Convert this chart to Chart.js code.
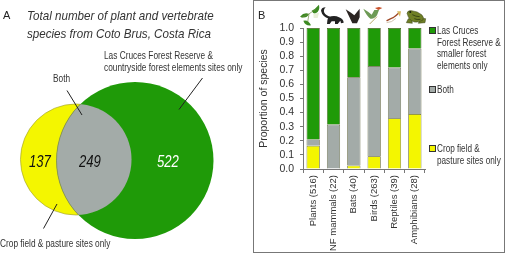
<!DOCTYPE html>
<html lang="en">
<head>
  <meta charset="UTF-8">
  <title>Plant and vertebrate species, Coto Brus</title>
  <script src="https://cdn.jsdelivr.net/npm/chart.js"></script>
  <style>
    html, body { margin: 0; padding: 0; background: #fff; }
    body { width: 507px; height: 253px; position: relative; overflow: hidden;
      font-family: 'Liberation Sans', Arial, sans-serif; color: #222; }
    canvas { position: absolute; }
    #venn { left: 0; top: 0; }
    #bars { left: 254px; top: 0; }
    .panel { position: absolute; left: 253px; top: 0; width: 250px; height: 251px; border: 1.5px solid #777; box-sizing: content-box; }
    .t { position: absolute; white-space: nowrap; line-height: 1; transform-origin: left top; }
    .title { font-style: italic; font-size: 13.5px; color: #333; transform: scaleX(0.86); }
    .lab { font-size: 11px; color: #333; transform: scaleX(0.755); }
    .num { font-style: italic; font-size: 16px; transform: scaleX(0.82); }
    .leg { font-size: 10.5px; color: #333; transform: scaleX(0.78); }
    .sw { position: absolute; width: 5px; height: 5px; border: 1px solid #333; box-sizing: content-box; }
    svg { position: absolute; }
  </style>
</head>
<body>
  <div class="panel"></div>
  <canvas id="venn" width="250" height="253"></canvas>
  <canvas id="bars" width="180" height="251"></canvas>

  <div class="t" style="left:3px;top:10px;font-size:11px">A</div>
  <div class="t title" style="left:27px;top:9px">Total number of plant and vertebrate</div>
  <div class="t title" style="left:27px;top:27px">species from Coto Brus, Costa Rica</div>
  <div class="t lab" style="left:104px;top:50px">Las Cruces Forest Reserve &amp;</div>
  <div class="t lab" style="left:104px;top:62px">countryside forest elements sites only</div>
  <div class="t lab" style="left:53px;top:73px">Both</div>
  <div class="t lab" style="left:0;top:238px">Crop field &amp; pasture sites only</div>
  <div class="t num" id="n0" style="left:29px;top:154px;color:#111"></div>
  <div class="t num" id="n1" style="left:79px;top:154px;color:#111"></div>
  <div class="t num" id="n2" style="left:157px;top:154px;color:#fff"></div>
  <div class="t" style="left:258px;top:10px;font-size:11px">B</div>

  <svg width="250" height="253" style="left:0;top:0" stroke="#222" stroke-width="1">
    <line x1="202.5" y1="78" x2="179" y2="109.5"/>
    <line x1="67" y1="90.5" x2="82" y2="115"/>
    <line x1="57" y1="204" x2="43.5" y2="228.5"/>
  </svg>

  <!-- little animal sketches above the bars, viewBox is 3x the pixels -->
  <svg width="140" height="35" viewBox="0 0 420 105" style="left:295px;top:0">
    <g fill="#3c8a22">
      <path d="M15 50 Q28 35 42 42 Q34 58 15 50Z"/>
      <path d="M25 62 Q40 58 48 76 Q30 78 25 62Z"/>
      <path d="M50 32 Q60 28 72 14 Q76 32 62 40 Q54 42 50 32Z"/>
    </g>
    <path d="M20 52 Q40 45 62 28 M42 42 L38 66" stroke="#6b8a40" stroke-width="2" fill="none"/>
    <path d="M55 42 L72 38 L68 54 L56 54Z" fill="#e8efd8"/>
    <g fill="#222">
      <path d="M100 52 Q118 44 132 52 Q146 58 146 68 L138 70 L136 62 L128 72 L120 72 L120 64 L110 64 L104 72 L96 72 Q96 60 100 52Z"/>
      <path d="M102 56 Q82 50 78 32 Q80 22 92 22 Q84 30 88 38 Q92 46 106 50Z"/>
    </g>
    <path d="M172 70 L152 28 L168 38 L178 46 L194 26 L194 52 L186 70 Z" fill="#2b2522"/>
    <g>
      <path d="M205 26 Q222 36 230 44 L238 30 L252 30 L246 46 Q238 58 226 56 Q214 46 205 26Z" fill="#6d9a55"/>
      <path d="M240 24 L252 21 L262 24 L250 30 Z" fill="#c8502a"/>
      <path d="M224 72 L246 50" stroke="#b8a868" stroke-width="3"/>
    </g>
    <g fill="none" stroke-linecap="round">
      <path d="M276 62 Q286 56 296 52 Q304 46 312 38" stroke="#a04a28" stroke-width="4"/>
      <path d="M276 68 Q290 68 302 56" stroke="#c8b8a0" stroke-width="2.5"/>
    </g>
    <path d="M306 34 L318 34 L315 50 Z" fill="#d8b860"/>
    <g fill="#6f7f26" stroke="#38421a" stroke-width="1.5">
      <path d="M340 56 L334 68 L352 70 L350 58Z"/>
      <path d="M378 54 L392 56 L390 68 L370 70Z"/>
      <path d="M336 40 Q338 30 350 32 Q368 34 380 44 Q388 52 384 60 Q372 68 358 66 Q342 62 336 40Z"/>
    </g>
    <circle cx="346" cy="36" r="3" fill="#1c1c10"/>
    <path d="M352 44 Q362 50 374 50 M358 56 Q366 60 376 58" stroke="#2d3a10" fill="none" stroke-width="2.5"/>
  </svg>

  <div id="legend"></div>

  <script>
    // bars, panel B
    const categories = ['Plants (516)', 'NF mammals (22)', 'Bats (40)', 'Birds (263)', 'Reptiles (39)', 'Amphibians (28)'];
    const cropOnly = [0.165, 0, 0.025, 0.09, 0.36, 0.39];
    const both = [0.045, 0.315, 0.625, 0.64, 0.36, 0.465];
    const forestOnly = [0.79, 0.685, 0.35, 0.27, 0.28, 0.145];
    const yTicks = ['0.0', '0.1', '0.2', '0.3', '0.4', '0.5', '0.6', '0.7', '0.8', '0.9', '1.0'];

    // venn, panel A
    const vennCrop = 137;
    const vennBoth = 249;
    const vennForest = 522;

    const GREEN = '#1f9a08';
    const GRAY = '#a3aba8';
    const YELLOW = '#f4f600';
    const EDGE = '#4a4f20';

    document.getElementById('n0').textContent = vennCrop;
    document.getElementById('n1').textContent = vennBoth;
    document.getElementById('n2').textContent = vennForest;

    // circle areas follow the species totals
    const k = 2.827;
    const rForest = k * Math.sqrt(vennForest + vennBoth);
    const rCrop = k * Math.sqrt(vennCrop + vennBoth);
    // bubble charts inset the chart area by the largest radius, so the scale
    // range starts there to keep one data unit equal to one pixel
    const inset = rForest;

    const lensPlugin = {
      id: 'lens',
      afterDatasetsDraw(chart) {
        const a = chart.getDatasetMeta(0).data[0];
        const b = chart.getDatasetMeta(1).data[0];
        const ctx = chart.ctx;
        ctx.save();
        ctx.beginPath();
        ctx.arc(a.x, a.y, rForest, 0, Math.PI * 2);
        ctx.clip();
        ctx.beginPath();
        ctx.arc(b.x, b.y, rCrop, 0, Math.PI * 2);
        ctx.fillStyle = GRAY;
        ctx.fill();
        ctx.restore();
        ctx.save();
        ctx.beginPath();
        ctx.arc(b.x, b.y, rCrop, 0, Math.PI * 2);
        ctx.clip();
        ctx.beginPath();
        ctx.arc(a.x, a.y, rForest, 0, Math.PI * 2);
        ctx.strokeStyle = '#8a8f50';
        ctx.lineWidth = 0.8;
        ctx.stroke();
        ctx.restore();
      }
    };

    new Chart(document.getElementById('venn'), {
      type: 'bubble',
      data: {
        datasets: [
          { data: [{ x: 135, y: 160.5, r: rForest }], backgroundColor: GREEN, borderWidth: 0, clip: false },
          { data: [{ x: 76, y: 159.5, r: rCrop }], backgroundColor: YELLOW, borderColor: '#9a9a30', borderWidth: 0.6, clip: false }
        ]
      },
      options: {
        responsive: false,
        animation: false,
        layout: { padding: 0 },
        plugins: { legend: { display: false }, tooltip: { enabled: false } },
        scales: {
          x: { display: false, min: inset, max: 250 - inset },
          y: { display: false, min: inset, max: 253 - inset, reverse: true }
        }
      },
      plugins: [lensPlugin]
    });

    new Chart(document.getElementById('bars'), {
      type: 'bar',
      data: {
        labels: categories,
        datasets: [
          { label: 'Crop field & pasture sites only', data: cropOnly, backgroundColor: YELLOW },
          { label: 'Both', data: both, backgroundColor: GRAY },
          { label: 'Las Cruces Forest Reserve & smaller forest elements only', data: forestOnly, backgroundColor: GREEN }
        ]
      },
      options: {
        responsive: false,
        animation: false,
        layout: { padding: { top: 28, right: 9, bottom: 0, left: 0 } },
        datasets: { bar: { categoryPercentage: 1, barPercentage: 0.65, borderColor: EDGE, borderWidth: 0.7 } },
        plugins: { legend: { display: false }, tooltip: { enabled: false } },
        scales: {
          x: {
            stacked: true,
            afterFit(scale) { scale.height = 82; },
            grid: { drawOnChartArea: false, color: '#777', tickLength: 4 },
            border: { color: '#777' },
            ticks: { minRotation: 90, maxRotation: 90, autoSkip: false, color: '#333', padding: 2,
              font: { family: 'Liberation Sans', size: 9.5 } }
          },
          y: {
            stacked: true,
            min: 0,
            max: 1,
            afterFit(scale) { scale.width = 49; },
            afterBuildTicks(scale) { scale.ticks = yTicks.map(t => ({ value: Number(t) })); },
            grid: { drawOnChartArea: false, color: '#777', tickLength: 3 },
            border: { color: '#777' },
            title: { display: true, text: 'Proportion of species', color: '#333', padding: { top: 4, bottom: 0 },
              font: { family: 'Liberation Sans', size: 10.5 } },
            ticks: { color: '#333', padding: 6, autoSkip: false, callback: v => v.toFixed(1),
              font: { family: 'Liberation Sans', size: 10.5 } }
          }
        }
      }
    });

    // legend is written by hand, the labels wrap on fixed lines
    const legendRows = [
      { color: GREEN, y: 26, lines: ['Las Cruces', 'Forest Reserve &', 'smaller forest', 'elements only'] },
      { color: GRAY, y: 85, lines: ['Both'] },
      { color: YELLOW, y: 144, lines: ['Crop field &', 'pasture sites only'] }
    ];
    const legend = document.getElementById('legend');
    legendRows.forEach(row => {
      const sw = document.createElement('div');
      sw.className = 'sw';
      sw.style.cssText = `left:429px;top:${row.y + 1}px;background:${row.color}`;
      legend.appendChild(sw);
      row.lines.forEach((line, i) => {
        const el = document.createElement('div');
        el.className = 't leg';
        el.style.cssText = `left:437px;top:${row.y - 1 + i * 11.7}px`;
        el.textContent = line;
        legend.appendChild(el);
      });
    });
  </script>
</body>
</html>
